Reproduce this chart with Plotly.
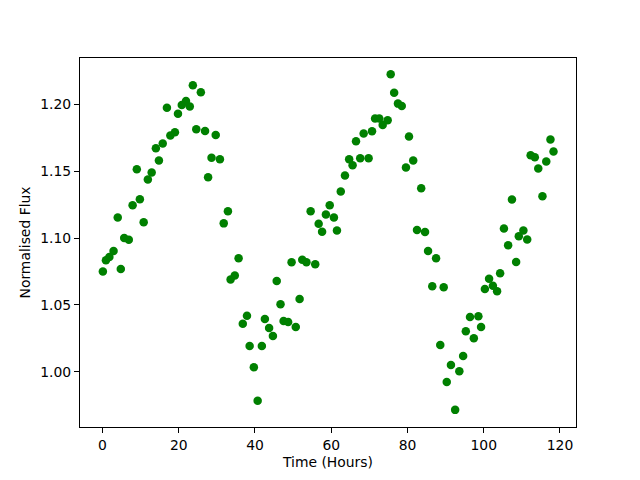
import plotly.graph_objects as go

# Light curve samples
time_hours = [
    0.1, 0.9, 1.8, 2.9, 4.0, 4.8, 5.7, 6.9, 7.9, 9.0,
    9.8, 10.8, 11.9, 12.9, 14.0, 14.8, 15.8, 16.9, 17.8, 19.0,
    19.8, 20.8, 21.9, 22.9, 23.7, 24.6, 25.8, 26.9, 27.7, 28.6,
    29.7, 30.8, 31.8, 32.9, 33.6, 34.7, 35.7, 36.8, 37.9, 38.6,
    39.7, 40.7, 41.8, 42.6, 43.7, 44.7, 45.7, 46.7, 47.5, 48.7,
    49.6, 50.7, 51.7, 52.4, 53.5, 54.6, 55.8, 56.7, 57.6, 58.6,
    59.6, 60.7, 61.5, 62.5, 63.6, 64.7, 65.6, 66.5, 67.6, 68.5,
    69.8, 70.7, 71.5, 72.6, 73.5, 74.8, 75.6, 76.5, 77.5, 78.5,
    79.6, 80.4, 81.5, 82.5, 83.6, 84.6, 85.4, 86.5, 87.5, 88.6,
    89.5, 90.3, 91.4, 92.5, 93.6, 94.6, 95.3, 96.4, 97.4, 98.6,
    99.3, 100.3, 101.4, 102.4, 103.5, 104.3, 105.3, 106.4, 107.4, 108.5,
    109.2, 110.4, 111.4, 112.3, 113.4, 114.3, 115.4, 116.4, 117.5, 118.3,
]
flux = [
    1.0751, 1.0834, 1.0858, 1.0903, 1.1154, 1.0769, 1.1000, 1.0987, 1.1246, 1.1515,
    1.1291, 1.1119, 1.1438, 1.1490, 1.1672, 1.1580, 1.1707, 1.1975, 1.1766, 1.1791,
    1.1930, 1.1995, 1.2025, 1.1983, 1.2142, 1.1813, 1.2090, 1.1800, 1.1455, 1.1600,
    1.1770, 1.1590, 1.1110, 1.1200, 1.0690, 1.0720, 1.0850, 1.0360, 1.0420, 1.0194,
    1.0035, 0.9784, 1.0194, 1.0395, 1.0328, 1.0269, 1.0680, 1.0505, 1.0380, 1.0373,
    1.0820, 1.0336, 1.0545, 1.0838, 1.0819, 1.1200, 1.0804, 1.1107, 1.1047, 1.1177,
    1.1246, 1.1154, 1.1057, 1.1348, 1.1468, 1.1590, 1.1545, 1.1724, 1.1597, 1.1781,
    1.1597, 1.1798, 1.1893, 1.1893, 1.1846, 1.1881, 1.2224, 1.2087, 1.2005, 1.1987,
    1.1528, 1.1759, 1.1580, 1.1060, 1.1373, 1.1045, 1.0903, 1.0640, 1.0849, 1.0201,
    1.0632, 0.9925, 1.0052, 0.9716, 1.0005, 1.0119, 1.0304, 1.0410, 1.0251, 1.0416,
    1.0336, 1.0620, 1.0696, 1.0644, 1.0602, 1.0737, 1.1072, 1.0946, 1.1289, 1.0821,
    1.1013, 1.1057, 1.0990, 1.1619, 1.1604, 1.1520, 1.1313, 1.1572, 1.1737, 1.1647,
]

x_ticks = [0, 20, 40, 60, 80, 100, 120]
y_ticks = [1.00, 1.05, 1.10, 1.15, 1.20]

fig = go.Figure()

fig.add_trace(go.Scatter(
    x=time_hours,
    y=flux,
    mode='markers',
    marker=dict(color='#008000', size=8.5, line=dict(width=0)),
    showlegend=False,
))

axis_style = dict(
    showline=True,
    linecolor='black',
    linewidth=1.1,
    mirror=True,
    showgrid=False,
    zeroline=False,
    automargin=False,
    ticks='outside',
    ticklen=5,
    tickwidth=1.1,
    tickcolor='black',
    tickfont=dict(size=13.9, color='black'),
)

# page body adds an 8px margin, so the figure is 8px smaller and shifted
fig.update_layout(
    width=632,
    height=472,
    margin=dict(l=72, r=64, t=50, b=53),
    paper_bgcolor='white',
    plot_bgcolor='white',
    font=dict(family='DejaVu Sans', size=13.9, color='black'),
    xaxis=dict(
        range=[-5.9, 124.2],
        tickvals=x_ticks,
        title=dict(text='Time (Hours)', standoff=5, font=dict(size=13.9)),
        **axis_style,
    ),
    yaxis=dict(
        range=[0.9588, 1.2346],
        tickvals=y_ticks,
        tickformat='.2f',
        title=dict(text='Normalised Flux', standoff=6, font=dict(size=13.9)),
        **axis_style,
    ),
)

fig.write_html("out.html")
